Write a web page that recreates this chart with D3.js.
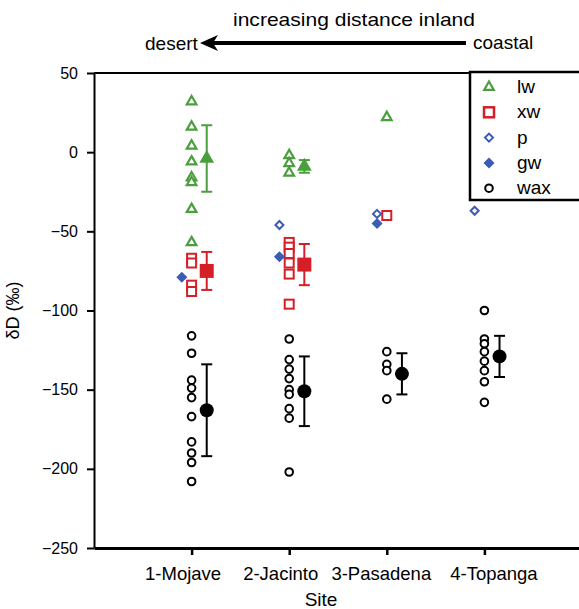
<!DOCTYPE html>
<html>
<head>
<meta charset="utf-8">
<script src="https://cdn.jsdelivr.net/npm/d3@7"></script>
<style>
  body { margin: 0; background: #fff; }
  text { font-family: "Liberation Sans", Arial, sans-serif; fill: #000; }
</style>
</head>
<body>
<script>
const W = 579, H = 609;
const margin = { top: 73, right: -3, bottom: 61, left: 94 };

const sites = ["1-Mojave", "2-Jacinto", "3-Pasadena", "4-Topanga"];
const siteShift = [-9, -9, -6, 9];
const yTicks = [50, 0, -50, -100, -150, -200, -250];

// individual samples, one array per site
const lw = [[32, 16, 4, -6, -16, -19, -36, -57], [-2, -7, -13], [22], []];
const xw = [[-67, -70, -84, -88], [-57, -60, -64, -70, -77, -96], [-40], []];
const p = [[], [-46], [-39], [-37]];
const gw = [[-79], [-66], [-45], []];
const wax = [
    [-116, -127, -144, -149, -155, -167, -183, -190, -196, -208],
    [-118, -131, -137, -143, -150, -153, -162, -168, -202],
    [-126, -134, -138, -156],
    [-100, -118, -121, -126, -132, -138, -145, -158]
];

// site means and error (+/-)
const lwMean = [-4, -9, null, null];
const lwErr = [21, 4, null, null];
const xwMean = [-75, -71, null, null];
const xwErr = [12, 13, null, null];
const waxMean = [-163, -151, -140, -129];
const waxErr = [29, 22, 13, 13];

const green = "#4b9e3e", red = "#d51f27", blue = "#3a5cb4";

const width = W - margin.left - margin.right;
const height = H - margin.top - margin.bottom;

const x = d3.scaleLinear().domain([0, 5]).range([0, width]);
const y = d3.scaleLinear().domain([-250, 50]).range([height, 0]);

const svg = d3.select("body").append("svg")
    .attr("width", W).attr("height", H);

const g = svg.append("g")
    .attr("transform", `translate(${margin.left}, ${margin.top})`);

// frame: top line
g.append("line")
    .attr("x1", 0).attr("x2", width)
    .attr("y1", 0).attr("y2", 0)
    .attr("stroke", "#000").attr("stroke-width", 2);

const yAxis = d3.axisLeft(y).tickValues(yTicks).tickSize(7).tickPadding(9).tickSizeOuter(0);
const xAxis = d3.axisBottom(x).tickValues([1, 2, 3, 4]).tickSize(7).tickPadding(12)
    .tickSizeOuter(0).tickFormat(d => sites[d - 1]);

g.append("g").attr("class", "y axis").call(yAxis)
    .call(a => a.select(".domain").attr("stroke-width", 2))
    .call(a => a.selectAll(".tick line").attr("stroke-width", 2))
    .call(a => a.selectAll("text").attr("font-size", 16).attr("font-family", "Liberation Sans, Arial"));

g.append("g").attr("class", "x axis")
    .attr("transform", `translate(0, ${height})`)
    .call(xAxis)
    .call(a => a.select(".domain").attr("stroke-width", 3))
    .call(a => a.selectAll(".tick line").attr("stroke-width", 2.5))
    .call(a => a.selectAll("text").attr("font-size", 18.5).attr("font-family", "Liberation Sans, Arial")
        .attr("dx", d => siteShift[d - 1]));

// axis titles
svg.append("text")
    .attr("transform", `translate(19, ${margin.top + y(-100)}) rotate(-90)`)
    .attr("text-anchor", "middle")
    .attr("font-size", 18)
    .text("δD (‰)");

svg.append("text")
    .attr("x", 321).attr("y", 606)
    .attr("text-anchor", "middle")
    .attr("font-size", 19)
    .text("Site");

// header with arrow
svg.append("text")
    .attr("x", 233).attr("y", 26)
    .attr("font-size", 19)
    .attr("textLength", 242)
    .attr("lengthAdjust", "spacingAndGlyphs")
    .text("increasing distance inland");
svg.append("text")
    .attr("x", 145).attr("y", 50)
    .attr("font-size", 19)
    .text("desert");
svg.append("text")
    .attr("x", 473).attr("y", 49)
    .attr("font-size", 19)
    .text("coastal");
svg.append("line")
    .attr("x1", 466).attr("x2", 212)
    .attr("y1", 43).attr("y2", 43)
    .attr("stroke", "#000").attr("stroke-width", 4);
svg.append("path")
    .attr("d", "M200,43 L218,35 L213,43 L218,51 Z")
    .attr("fill", "#000");

// marker shapes
const tri = d3.symbol().type(d3.symbolTriangle);
const diamond = r => `M0,${-r}L${r},0L0,${r}L${-r},0Z`;

function flat(arr) {
    return arr.flatMap((vals, i) => vals.map(v => ({ site: i + 1, v })));
}
function means(m, e) {
    return m.map((v, i) => ({ site: i + 1, v, e: e[i] })).filter(d => d.v !== null);
}

const off = 0.155, dOff = -0.1;

// error bars
function errBars(data, color) {
    const eb = g.append("g").attr("stroke", color).attr("stroke-width", 2).attr("fill", "none");
    data.forEach(d => {
        const cx = x(d.site + off);
        eb.append("line").attr("x1", cx).attr("x2", cx)
            .attr("y1", y(d.v + d.e)).attr("y2", y(d.v - d.e));
        [d.v + d.e, d.v - d.e].forEach(v => {
            eb.append("line").attr("x1", cx - 5.5).attr("x2", cx + 5.5)
                .attr("y1", y(v)).attr("y2", y(v));
        });
    });
}

errBars(means(lwMean, lwErr), green);
errBars(means(xwMean, xwErr), red);
errBars(means(waxMean, waxErr), "#000");

// wax
g.selectAll(".wax").data(flat(wax)).join("circle")
    .attr("class", "wax")
    .attr("cx", d => x(d.site)).attr("cy", d => y(d.v))
    .attr("r", 3.8).attr("fill", "#fff")
    .attr("stroke", "#000").attr("stroke-width", 2);
g.selectAll(".waxm").data(means(waxMean, waxErr)).join("circle")
    .attr("class", "waxm")
    .attr("cx", d => x(d.site + off)).attr("cy", d => y(d.v))
    .attr("r", 7).attr("fill", "#000");

// xw
g.selectAll(".xw").data(flat(xw)).join("rect")
    .attr("class", "xw")
    .attr("x", d => x(d.site) - 4.5).attr("y", d => y(d.v) - 4.5)
    .attr("width", 9).attr("height", 9)
    .attr("fill", "#fff").attr("stroke", red).attr("stroke-width", 2);
g.selectAll(".xwm").data(means(xwMean, xwErr)).join("rect")
    .attr("class", "xwm")
    .attr("x", d => x(d.site + off) - 7).attr("y", d => y(d.v) - 7)
    .attr("width", 14).attr("height", 14)
    .attr("fill", red);

// lw
g.selectAll(".lw").data(flat(lw)).join("path")
    .attr("class", "lw")
    .attr("transform", d => `translate(${x(d.site)}, ${y(d.v)})`)
    .attr("d", tri.size(40)())
    .attr("fill", "#fff").attr("stroke", green).attr("stroke-width", 2.2);
g.selectAll(".lwm").data(means(lwMean, lwErr)).join("path")
    .attr("class", "lwm")
    .attr("transform", d => `translate(${x(d.site + off)}, ${y(d.v)})`)
    .attr("d", tri.size(95)())
    .attr("fill", green);

// p and gw
g.selectAll(".p").data(flat(p)).join("path")
    .attr("class", "p")
    .attr("transform", d => `translate(${x(d.site + dOff)}, ${y(d.v)})`)
    .attr("d", diamond(4))
    .attr("fill", "#fff").attr("stroke", blue).attr("stroke-width", 2);
g.selectAll(".gw").data(flat(gw)).join("path")
    .attr("class", "gw")
    .attr("transform", d => `translate(${x(d.site + dOff)}, ${y(d.v)})`)
    .attr("d", diamond(5.5))
    .attr("fill", blue);

// legend
const legendItems = [
    { key: "lw", draw: s => s.append("path").attr("d", tri.size(40)()).attr("fill", "#fff").attr("stroke", green).attr("stroke-width", 2.2) },
    { key: "xw", draw: s => s.append("rect").attr("x", -5).attr("y", -5).attr("width", 10).attr("height", 10).attr("fill", "#fff").attr("stroke", red).attr("stroke-width", 2.5) },
    { key: "p", draw: s => s.append("path").attr("d", diamond(4)).attr("fill", "#fff").attr("stroke", blue).attr("stroke-width", 2) },
    { key: "gw", draw: s => s.append("path").attr("d", diamond(5.5)).attr("fill", blue) },
    { key: "wax", draw: s => s.append("circle").attr("r", 3.8).attr("fill", "#fff").attr("stroke", "#000").attr("stroke-width", 2) }
];
const legend = svg.append("g").attr("transform", "translate(470, 72)");
legend.append("rect")
    .attr("x", 0).attr("y", 0).attr("width", 120).attr("height", 128)
    .attr("fill", "#fff").attr("stroke", "#000").attr("stroke-width", 2.5);
legendItems.forEach((it, i) => {
    const row = legend.append("g").attr("transform", `translate(19, ${15 + i * 25.3})`);
    it.draw(row);
    row.append("text").attr("x", 28).attr("y", 6)
        .attr("font-size", 19).text(it.key);
});
</script>
</body>
</html>
